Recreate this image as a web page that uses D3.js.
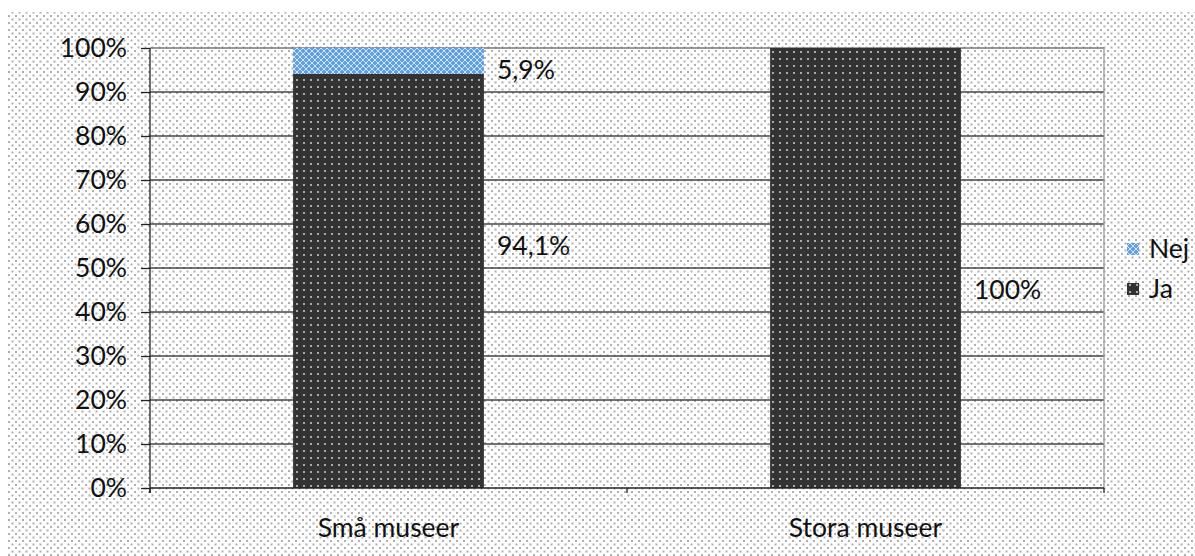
<!DOCTYPE html>
<html>
<head>
<meta charset="utf-8">
<script src="https://cdn.jsdelivr.net/npm/d3@7"></script>
<style>
  body { margin: 0; background: #fff; }
  text { font-family: Lato, 'Open Sans', sans-serif; fill: #111; }
</style>
</head>
<body>
<svg width="1195" height="556"></svg>
<script>
// data
var categories = ['Små museer', 'Stora museer']
var ja = [94.1, 100]
var nej = [5.9, 0]
var jaLabels = ['94,1%', '100%']
var nejLabels = ['5,9%', '']
var yTicks = [0, 10, 20, 30, 40, 50, 60, 70, 80, 90, 100]
var legendItems = ['Nej', 'Ja']

var svg = d3.select('svg')
var margin = { left: 150, right: 1104, top: 48, bottom: 488 }
var fs = '26.5px'

var defs = svg.append('defs')

// background dots
var bg = defs.append('pattern').attr('id', 'bgdots')
    .attr('width', 7).attr('height', 7).attr('patternUnits', 'userSpaceOnUse')
bg.append('rect').attr('width', 7).attr('height', 7).attr('fill', '#fff')
bg.append('rect').attr('x', 1).attr('y', 1).attr('width', 2).attr('height', 2).attr('fill', '#b0b0b0')
bg.append('rect').attr('x', 4.5).attr('y', 4.5).attr('width', 2).attr('height', 2).attr('fill', '#b0b0b0')

// dark bar pattern
var dk = defs.append('pattern').attr('id', 'dark')
    .attr('width', 7).attr('height', 7).attr('patternUnits', 'userSpaceOnUse')
dk.append('rect').attr('width', 7).attr('height', 7).attr('fill', '#333')
dk.append('rect').attr('x', 2).attr('y', 2).attr('width', 2).attr('height', 2).attr('fill', '#aaa')

// blue bar pattern
var bl = defs.append('pattern').attr('id', 'blue')
    .attr('width', 6).attr('height', 6).attr('patternUnits', 'userSpaceOnUse')
bl.append('rect').attr('width', 6).attr('height', 6).attr('fill', '#5f9fe6')
bl.append('path').attr('d', 'M0,3 L3,0 L6,3 L3,6 Z').attr('fill', 'none').attr('stroke', '#d5e6fa').attr('stroke-width', 1)

svg.append('rect').attr('x', 8).attr('y', 12).attr('width', 1195 - 8).attr('height', 556 - 12)
    .attr('fill', 'url(#bgdots)')

var x = d3.scaleBand().domain(categories).range([margin.left, margin.right]).paddingInner(0).paddingOuter(0)
var y = d3.scaleLinear().domain([0, 100]).range([margin.bottom, margin.top])
var barW = x.bandwidth() * 0.4

// gridlines
svg.append('g').selectAll('line').data(yTicks.slice(1)).enter().append('line')
    .attr('x1', margin.left).attr('x2', margin.right)
    .attr('y1', function(d) { return y(d) }).attr('y2', function(d) { return y(d) })
    .attr('stroke', function(d) { return d == 100 ? '#777' : '#444' }).attr('stroke-width', 1.3)

// right border
svg.append('line').attr('x1', margin.right).attr('x2', margin.right)
    .attr('y1', margin.top).attr('y2', margin.bottom)
    .attr('stroke', '#999').attr('stroke-width', 1.3)

// bars
var bars = svg.append('g')
bars.selectAll('.ja').data(categories).enter().append('rect')
    .attr('x', function(d) { return x(d) + (x.bandwidth() - barW) / 2 })
    .attr('width', barW)
    .attr('y', function(d, i) { return y(ja[i]) })
    .attr('height', function(d, i) { return y(0) - y(ja[i]) })
    .attr('fill', 'url(#dark)')
bars.selectAll('.nej').data(categories).enter().append('rect')
    .attr('x', function(d) { return x(d) + (x.bandwidth() - barW) / 2 })
    .attr('width', barW)
    .attr('y', function(d, i) { return y(ja[i] + nej[i]) })
    .attr('height', function(d, i) { return y(ja[i]) - y(ja[i] + nej[i]) })
    .attr('fill', 'url(#blue)')

// axes
var yAxis = d3.axisLeft(y).tickValues(yTicks).tickSize(9).tickPadding(14)
    .tickFormat(function(d) { return d + '%' })
var gy = svg.append('g').attr('transform', 'translate(' + margin.left + ',0)').call(yAxis)
gy.select('.domain').attr('stroke', '#222').attr('stroke-width', 1.3)
gy.selectAll('.tick line').attr('stroke', '#222').attr('stroke-width', 1.3)
gy.selectAll('text').style('font-size', fs).style('font-family', 'Lato, sans-serif').attr('fill', '#111')
gy.select('.domain').attr('d', 'M0,' + margin.top + 'V' + (margin.bottom + 5))

var gx = svg.append('g').attr('transform', 'translate(0,' + margin.bottom + ')')
gx.append('line').attr('x1', margin.left).attr('x2', margin.right).attr('stroke', '#222').attr('stroke-width', 1.3)
var tickXs = [x(categories[0]), x(categories[1]), margin.right]
gx.selectAll('.xt').data(tickXs).enter().append('line')
    .attr('x1', function(d) { return d }).attr('x2', function(d) { return d })
    .attr('y1', 0).attr('y2', 5).attr('stroke', '#222').attr('stroke-width', 1.3)
gx.selectAll('text').data(categories).enter().append('text')
    .attr('x', function(d) { return x(d) + x.bandwidth() / 2 })
    .attr('y', 40).attr('dy', '0.35em').attr('text-anchor', 'middle')
    .style('font-size', fs).text(function(d) { return d })

// data labels (Excel-style placement to the right of the bars)
var jaLabelAt = [55, 45]
var nejLabelAt = [95, 0]
var labels = svg.append('g')
categories.forEach(function(c, i) {
  var lx = x(c) + (x.bandwidth() + barW) / 2 + 13
  labels.append('text').attr('x', lx).attr('y', y(jaLabelAt[i])).attr('dy', '0.35em')
      .style('font-size', fs).text(jaLabels[i])
  if (nejLabels[i]) {
    labels.append('text').attr('x', lx).attr('y', y(nejLabelAt[i])).attr('dy', '0.35em')
        .style('font-size', fs).text(nejLabels[i])
  }
})

// legend
var legend = svg.append('g').attr('transform', 'translate(1127,249)')
legendItems.forEach(function(name, i) {
  var g = legend.append('g').attr('transform', 'translate(0,' + i * 40 + ')')
  g.append('rect').attr('x', 0).attr('y', -6).attr('width', 12).attr('height', 12)
      .attr('fill', name == 'Nej' ? 'url(#blue)' : 'url(#dark)')
  g.append('text').attr('x', 22).attr('y', 0).attr('dy', '0.35em').style('font-size', fs).text(name)
})
</script>
</body>
</html>
